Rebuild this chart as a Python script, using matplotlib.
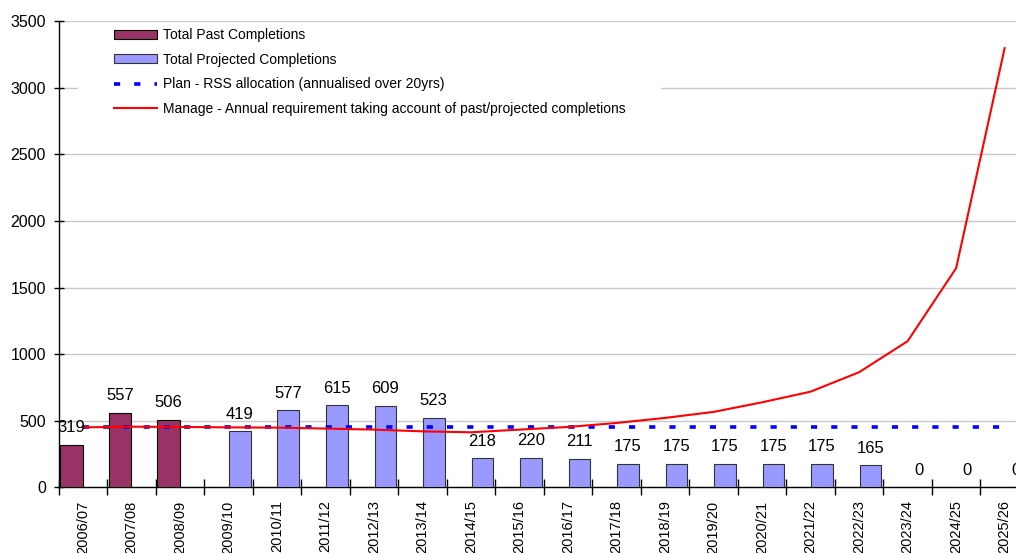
import numpy as np
import matplotlib.pyplot as plt
from matplotlib.patches import Patch, Rectangle
from matplotlib.lines import Line2D

plt.rcParams['font.family'] = ['Liberation Sans', 'DejaVu Sans']

years = ['2006/07', '2007/08', '2008/09', '2009/10', '2010/11', '2011/12', '2012/13',
         '2013/14', '2014/15', '2015/16', '2016/17', '2017/18', '2018/19', '2019/20',
         '2020/21', '2021/22', '2022/23', '2023/24', '2024/25', '2025/26']

# past completions (first three years only)
past = [319, 557, 506]
# projected completions (from 2009/10)
projected = [419, 577, 615, 609, 523, 218, 220, 211, 175, 175, 175, 175, 175, 165, 0, 0, 0]
# plan - RSS allocation annualised
plan = [453] * 20
# manage line
manage = [450, 455, 453, 450, 448, 441, 433, 420, 413, 433, 453, 483, 521, 566, 638,
          718, 864, 1097, 1645, 3297]

fig = plt.figure(figsize=(10.16, 5.53), dpi=100)
W, H = 1016, 553
ax_l, ax_r, ax_t, ax_b = 58.7, 1016, 21.1, 487.3
ax = fig.add_axes([ax_l / W, 1 - ax_b / H, (ax_r - ax_l) / W, (ax_b - ax_t) / H])

cat_w = 48.51
x = np.arange(len(years))
past_x = x[:len(past)]
proj_x = x[3:]

bw = 0.465
bars_past = ax.bar(past_x - bw, past, width=bw, align='edge', color='#993366',
                   edgecolor='black', linewidth=0.8, zorder=3)
bars_proj = ax.bar(proj_x + 0.01, projected, width=bw - 0.02, align='edge', color='#9999FF',
                   edgecolor='#333333', linewidth=0.8, zorder=3)

for rect, v in zip(bars_past, past):
    ax.annotate(str(v), (rect.get_x() + rect.get_width() / 2, v), xytext=(0, 7),
                textcoords='offset points', ha='center', va='bottom', fontsize=12, zorder=6)
for rect, v in zip(bars_proj, projected):
    ax.annotate(str(v), (rect.get_x() + rect.get_width() / 2, v), xytext=(0, 7),
                textcoords='offset points', ha='center', va='bottom', fontsize=12, zorder=6,
                annotation_clip=False)

ax.plot(x, plan, color='#0000FF', linewidth=2.6, dashes=(1.7, 3.9), zorder=4)
ax.plot(x, manage, color='#FF0000', linewidth=1.5, zorder=5)

ax.set_yticks(np.arange(0, 3501, 500))
ax.yaxis.grid(True, color='#c8c8c8', linewidth=1.0, zorder=0)
ax.set_axisbelow(True)

ax.set_xticks(np.arange(-0.5, 20, 1))
ax.set_xticklabels([])
ax.set_xticks(x, minor=True)
ax.set_xticklabels(years, minor=True, rotation=90, va='top', ha='center')
ax.tick_params(axis='x', which='major', direction='inout', length=11, width=1)
ax.tick_params(axis='x', which='minor', length=0, pad=9.5, labelsize=10.5)
ax.tick_params(axis='y', direction='inout', length=7.2, width=1, pad=5.5, labelsize=11.5)

# limits after ticks so set_xticks does not widen the view
ax.set_ylim(0, 3500)
ax.set_xlim(-0.5, -0.5 + (ax_r - ax_l) / cat_w)

for s in ['top', 'right']:
    ax.spines[s].set_visible(False)
for s in ['left', 'bottom']:
    ax.spines[s].set_linewidth(1.0)
    ax.spines[s].set_color('black')

# white legend area
rx0 = (78 - ax_l) / (ax_r - ax_l)
rx1 = (661 - ax_l) / (ax_r - ax_l)
ry0 = 1 - (130 - ax_t) / (ax_b - ax_t)
ry1 = 1 - (26 - ax_t) / (ax_b - ax_t)
ax.add_patch(Rectangle((rx0, ry0), rx1 - rx0, ry1 - ry0, transform=ax.transAxes,
                       facecolor='white', edgecolor='none', zorder=1))

handles = [
    Patch(facecolor='#993366', edgecolor='black', linewidth=0.8),
    Patch(facecolor='#9999FF', edgecolor='#333333', linewidth=0.8),
    Line2D([], [], color='#0000FF', linewidth=2.6, dashes=(1.7, 3.9)),
    Line2D([], [], color='#FF0000', linewidth=1.5),
]
labels = ['Total Past Completions', 'Total Projected Completions',
          'Plan - RSS allocation (annualised over 20yrs)',
          'Manage - Annual requirement taking account of past/projected completions']
leg = ax.legend(handles, labels, loc='upper left',
                bbox_to_anchor=((114 - ax_l) / (ax_r - ax_l), 1 - (28 - ax_t) / (ax_b - ax_t)),
                frameon=False, borderpad=0, borderaxespad=0, fontsize=10,
                handlelength=3.1, handleheight=0.6, handletextpad=0.4, labelspacing=0.77)
leg.set_zorder(7)

fig.savefig('out.png', dpi=100)
